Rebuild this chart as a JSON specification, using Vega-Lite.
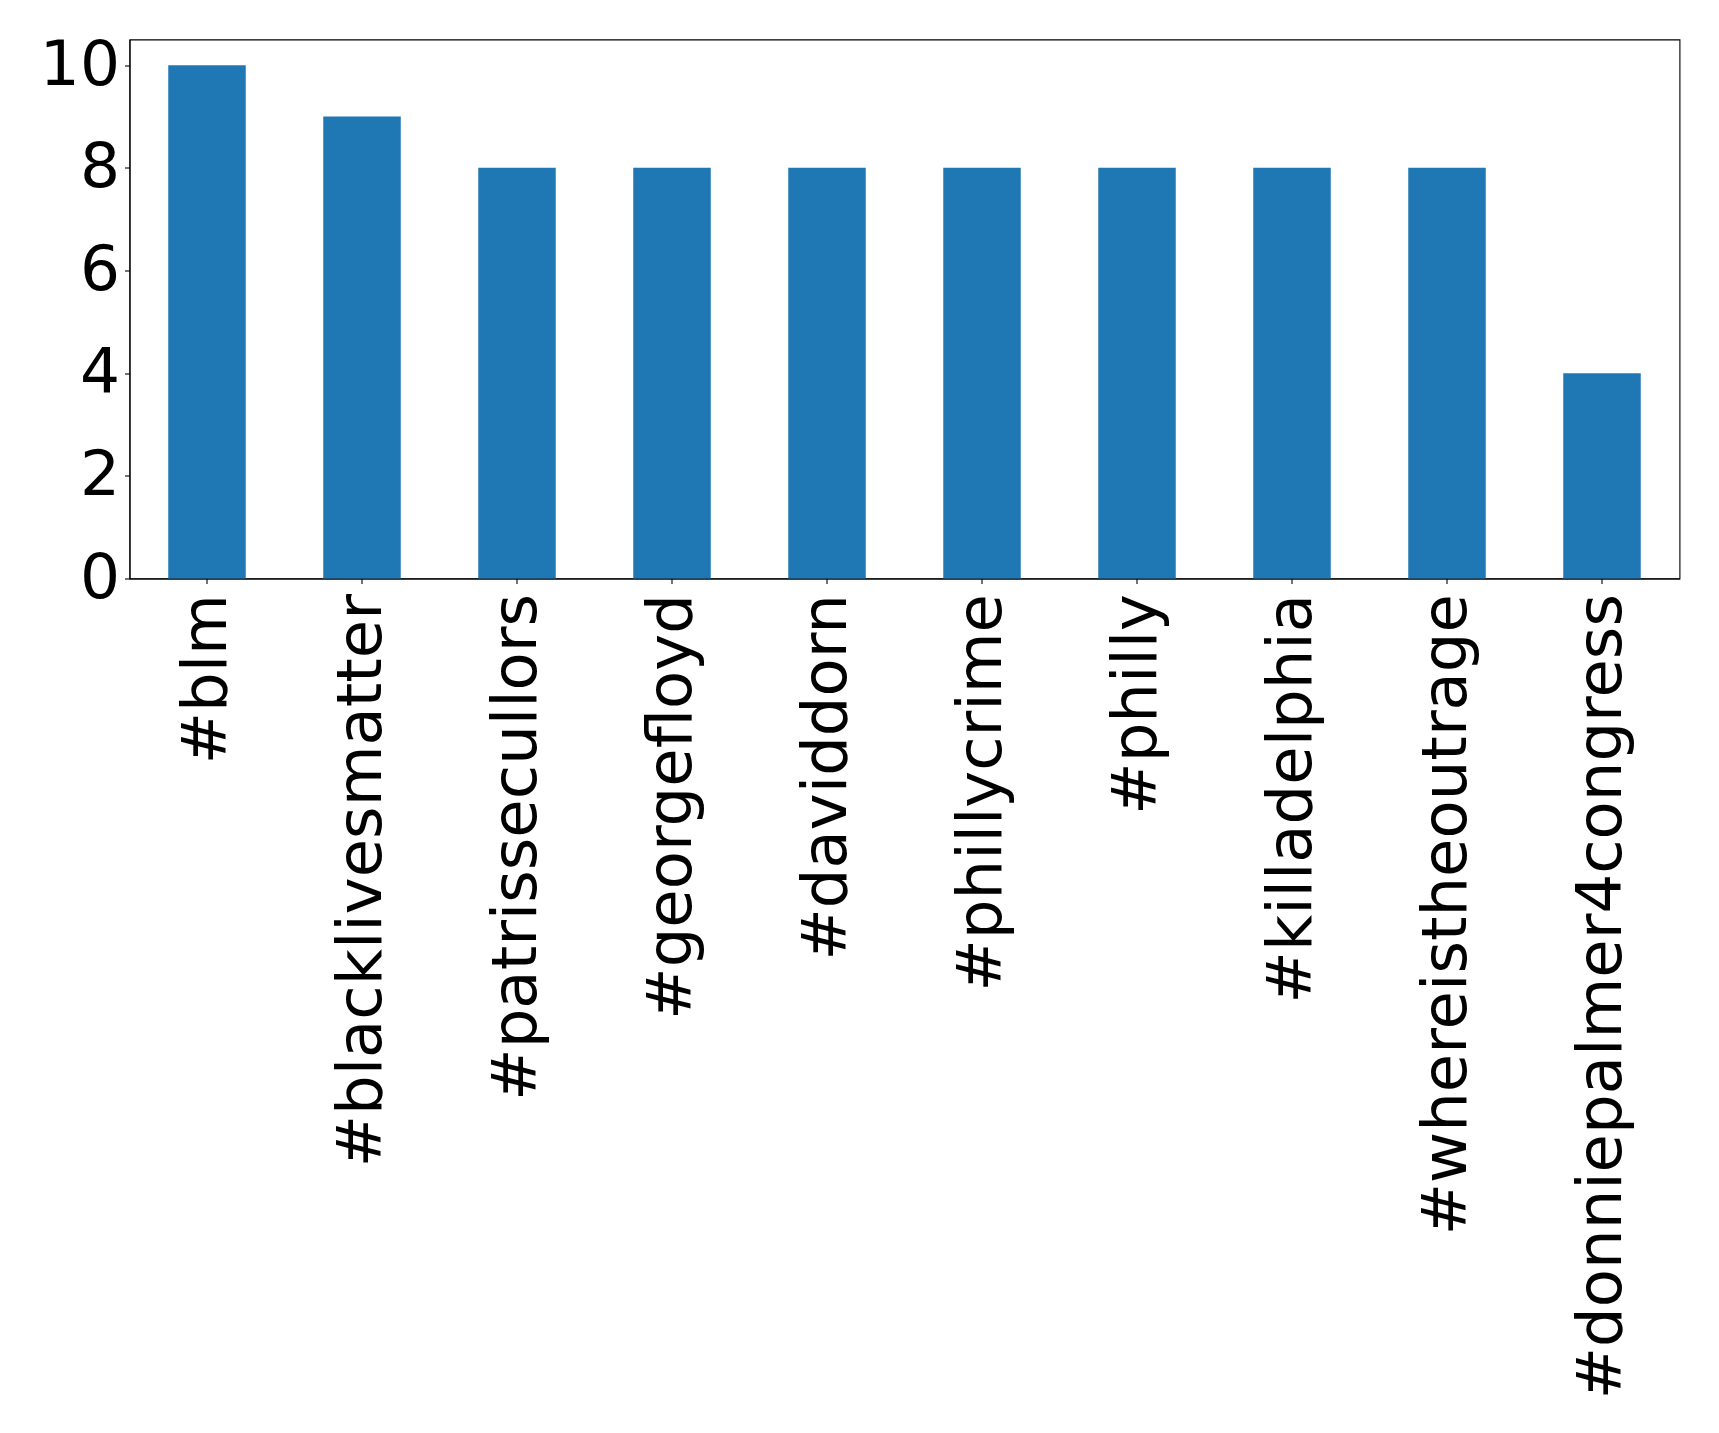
{
  "$schema": "https://vega.github.io/schema/vega-lite/v6.json",
  "width": 1550,
  "height": 539,
  "autosize": "none",
  "padding": {"left": 129.5, "top": 39.5, "right": 39.5, "bottom": 854.5},
  "background": "white",
  "data": {"values": [
    {"tag": "#blm", "count": 10},
    {"tag": "#blacklivesmatter", "count": 9},
    {"tag": "#patrissecullors", "count": 8},
    {"tag": "#georgefloyd", "count": 8},
    {"tag": "#daviddorn", "count": 8},
    {"tag": "#phillycrime", "count": 8},
    {"tag": "#philly", "count": 8},
    {"tag": "#killadelphia", "count": 8},
    {"tag": "#whereistheoutrage", "count": 8},
    {"tag": "#donniepalmer4congress", "count": 4}
  ]},
  "mark": {"type": "bar", "color": "#1f77b4"},
  "encoding": {
    "x": {
      "field": "tag", "type": "nominal", "sort": null,
      "scale": {"paddingInner": 0.5, "paddingOuter": 0.25},
      "axis": {"title": null, "labelAngle": -90, "labelFontSize": 62.5, "labelPadding": 10, "tickSize": 5, "labelOverlap": false, "labelLimit": 2000}
    },
    "y": {
      "field": "count", "type": "quantitative",
      "scale": {"domain": [0, 10.5], "nice": false, "zero": true},
      "axis": {"title": null, "values": [0, 2, 4, 6, 8, 10], "grid": false, "labelFontSize": 63, "labelPadding": 5, "tickSize": 5, "labelFlush": false, "labelOverlap": false}
    }
  },
  "config": {
    "font": "DejaVu Sans",
    "view": {"stroke": "black", "strokeWidth": 1.1},
    "axis": {"labelFont": "DejaVu Sans", "labelColor": "black", "domainColor": "black", "tickColor": "black", "domainWidth": 1.1, "tickWidth": 1.1}
  }
}
